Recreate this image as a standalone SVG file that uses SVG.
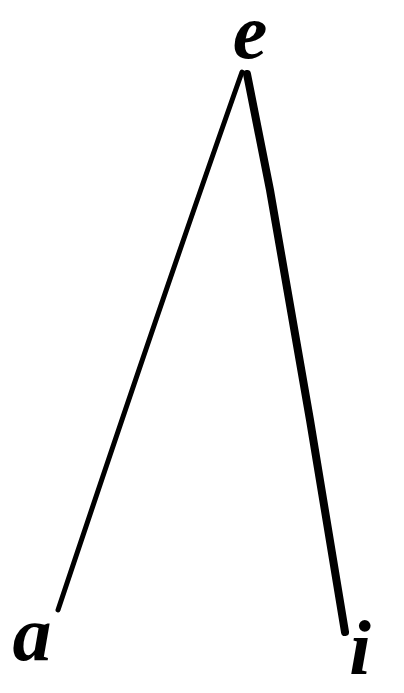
<svg xmlns="http://www.w3.org/2000/svg" width="404" height="693" viewBox="0 0 404 693">
<style>
.lbl{font-family:"Liberation Serif",serif;font-style:italic;font-weight:bold;font-size:78px;fill:#000}
.edge{fill:none;stroke:#000;stroke-linecap:round}
</style>
<rect width="404" height="693" fill="#fff"/>
<g id="connectors">
<path class="edge" d="M242,72 Q165,290 58,610" stroke-width="5"/>
<path class="edge" d="M247,74 L270,190 L310,420 L345,632" stroke-width="8"/>
</g>
<g id="node-e"><text class="lbl" x="250" y="58" text-anchor="middle">e</text></g>
<g id="node-a"><text class="lbl" x="32" y="660" text-anchor="middle">a</text></g>
<g id="node-i"><text class="lbl" x="360" y="674" text-anchor="middle">i</text></g>
</svg>
